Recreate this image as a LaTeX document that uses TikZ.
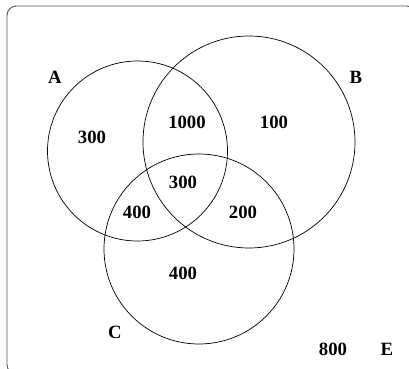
\documentclass[tikz,border=0pt]{standalone}
\usepackage{fontspec}
\setmainfont{Liberation Serif}
\usepackage{tikz}
\begin{document}
\begin{tikzpicture}[x=0.03cm,y=-0.03cm,line join=round,
  setcirc/.style={draw,circle,line width=0.6pt},
  lbl/.style={font=\fontsize{16}{18}\selectfont\bfseries,inner sep=0pt}]
  \useasboundingbox (0,0) rectangle (409,369);
  \draw[gray!70!black,line width=0.8pt,rounded corners=8pt] (7,6) rectangle (416,374);
  % the three sets
  \node[setcirc,minimum size=180*0.03cm] (setA) at (137.5,151) {};
  \node[setcirc,minimum size=212*0.03cm] (setB) at (249,142) {};
  \node[setcirc,minimum size=190*0.03cm] (setC) at (199,249) {};
  % names
  \node[lbl] (nameA) at (55,77) {A};
  \node[lbl] (nameB) at (356,77) {B};
  \node[lbl] (nameC) at (115,332) {C};
  \node[lbl] (nameE) at (387,349) {E};
  % counts
  \node[lbl] (onlyA) at (92,137) {300};
  \node[lbl] (AB) at (187,122) {1000};
  \node[lbl] (onlyB) at (274,122) {100};
  \node[lbl] (ABC) at (183,182) {300};
  \node[lbl] (AC) at (137,212) {400};
  \node[lbl] (BC) at (243,212) {200};
  \node[lbl] (onlyC) at (183,273) {400};
  \node[lbl] (none) at (333,349) {800};
\end{tikzpicture}
\end{document}
